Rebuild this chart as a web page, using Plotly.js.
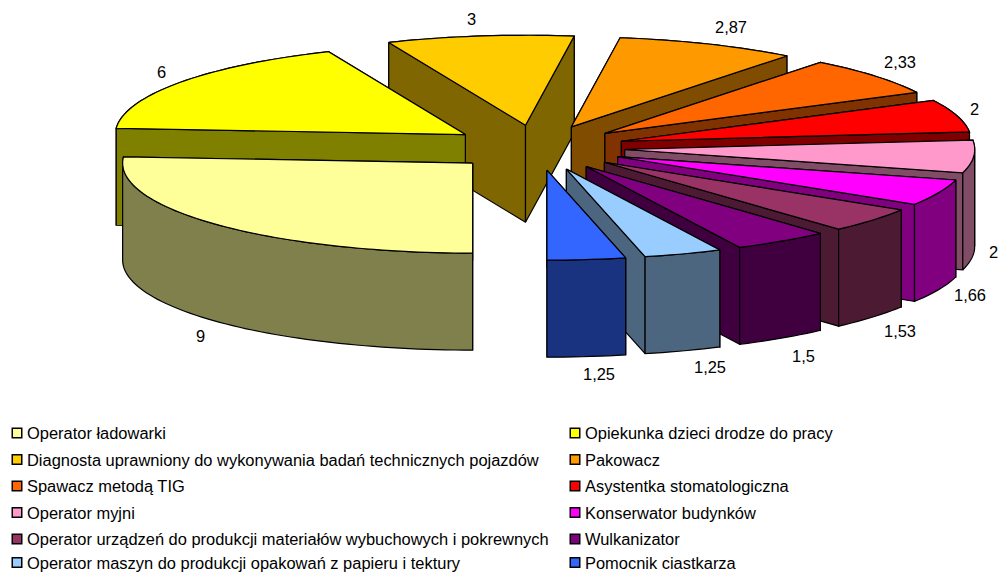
<!DOCTYPE html>
<html><head><meta charset="utf-8">
<script src="https://cdn.plot.ly/plotly-3.0.1.min.js"></script>
<style>html,body{margin:0;padding:0;background:#fff;overflow:hidden}#chart{width:998px;height:572px}</style>
</head><body><div id="chart"></div>
<script>
const categories = ["Operator ładowarki","Opiekunka dzieci drodze do pracy","Diagnosta uprawniony do wykonywania badań technicznych pojazdów","Pakowacz","Spawacz metodą TIG","Asystentka stomatologiczna","Operator myjni","Konserwator budynków","Operator urządzeń do produkcji materiałów wybuchowych i pokrewnych","Wulkanizator","Operator maszyn do produkcji opakowań z papieru i tektury","Pomocnik ciastkarza"];
const values = [9,6,3,2.87,2.33,2,2,1.66,1.53,1.5,1.25,1.25];
const topColors = ["#FFFF99","#FFFF00","#FFCC00","#FF9900","#FF6600","#FF0000","#FF99CC","#FF00FF","#993366","#800080","#99CCFF","#3366FF"];
const wallColors = ["#80804D","#808000","#806600","#804C00","#803300","#800000","#804C66","#800080","#4D1A33","#400040","#4D6680","#1A3380"];
const labelX = [200,161,471,731,900,974,993,970,900,803,710,599];
const labelY = [336,72,19,27,62,109,252,295,331,356,367,374];

// projection of the exploded pie
const CX=537, CY=147.7, RX=350, RY=90, EXPLODE=88, DEPTH=97, START=180;
const total = values.reduce((a,b)=>a+b,0);
const rad = d=>d*Math.PI/180;
const traces=[];
function poly(pts,color){
  traces.push({type:'scatter',mode:'lines',x:pts.map(p=>p[0]).concat(pts[0][0]),y:pts.map(p=>p[1]).concat(pts[0][1]),
    fill:'toself',fillcolor:color,line:{color:'#000',width:1.2,simplify:false},hoverinfo:'skip',showlegend:false});
}
let cum=0; const slices=values.map((v,i)=>{const a0=Math.round(START+cum/total*360);cum+=v;const a1=Math.round(START+cum/total*360);return {i,a0,a1};});
function drawSlice(s){
  const mid=rad((s.a0+s.a1)/2);
  const ax=CX+EXPLODE*Math.sin(mid), ay=CY-EXPLODE*RY/RX*Math.cos(mid);
  const P=(d,z)=>[ax+RX*Math.sin(rad(d)), ay-RY*Math.cos(rad(d))+z];
  const A=[]; const n=Math.max(4,Math.ceil((s.a1-s.a0)/1.5));
  for(let k=0;k<=n;k++) A.push(s.a0+(s.a1-s.a0)*k/n);
  const wall=(arr)=>arr.map(d=>P(d,0)).concat(arr.slice().reverse().map(d=>P(d,DEPTH)));
  const back=A.filter(d=>Math.cos(rad(d))>0), front=A.filter(d=>Math.cos(rad(d))<=0);
  const wc=wallColors[s.i];
  if(back.length>1) poly(wall(back),wc);
  const rad0=[[ax,ay],P(s.a0,0),P(s.a0,DEPTH),[ax,ay+DEPTH]];
  const rad1=[[ax,ay],P(s.a1,0),P(s.a1,DEPTH),[ax,ay+DEPTH]];
  const f0=Math.sin(rad(s.a0))<-1e-6, f1=Math.sin(rad(s.a1))>1e-6;
  if(!f0) poly(rad0,wc); if(!f1) poly(rad1,wc);
  if(f0) poly(rad0,wc); if(f1) poly(rad1,wc);
  if(front.length>1) poly(wall(front),wc);
  poly([[ax,ay]].concat(A.map(d=>P(d,0))),topColors[s.i]);
}
[2,3,4,5,6,7,8,9,10,11,1,0].forEach(i=>drawSlice(slices[i]));

// legend
const COLX=[17,575], TEXTX=[25,582.5], ROWY=[433,459.5,486,512.5,539,562.5];
const annotations=[];
const lx=[],ly=[];
const FONT={family:'Liberation Sans, Arial, sans-serif',size:16.45,color:'#000'};
categories.forEach((c,i)=>{
  const col=i%2,row=Math.floor(i/2);
  lx.push(COLX[col]);ly.push(ROWY[row]);
  annotations.push({x:TEXTX[col],y:ROWY[row],xref:'x',yref:'y',text:c,showarrow:false,xanchor:'left',yanchor:'middle',font:FONT});
});
traces.push({type:'scatter',mode:'markers',x:lx,y:ly,marker:{symbol:'square',size:9.5,color:topColors,line:{color:'#000',width:1.5}},hoverinfo:'skip',showlegend:false});
values.forEach((v,i)=>annotations.push({x:labelX[i],y:labelY[i],xref:'x',yref:'y',text:String(v).replace('.',','),showarrow:false,xanchor:'center',yanchor:'middle',font:FONT}));

Plotly.newPlot('chart',traces,{width:998,height:572,margin:{l:0,r:0,t:0,b:0},paper_bgcolor:'#fff',plot_bgcolor:'#fff',showlegend:false,
  xaxis:{range:[0,998],visible:false,fixedrange:true},yaxis:{range:[572,0],visible:false,fixedrange:true},annotations},{displayModeBar:false,staticPlot:true});
</script></body></html>
